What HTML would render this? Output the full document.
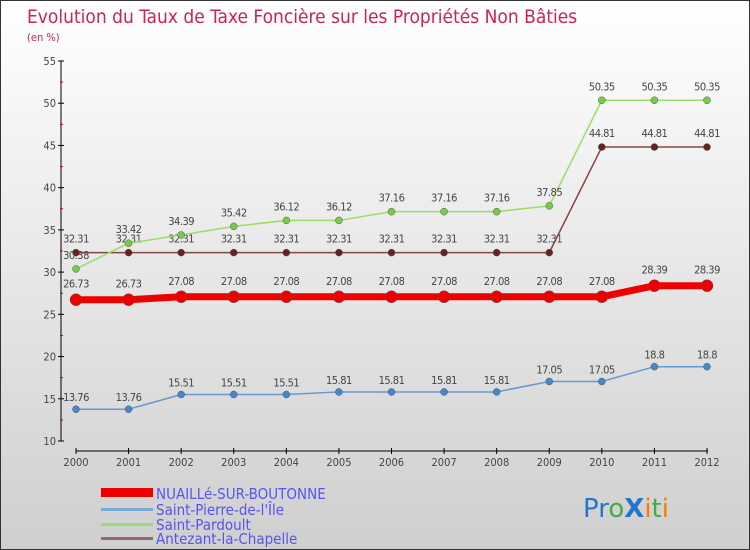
<!DOCTYPE html>
<html><head><meta charset="utf-8"><style>
body{margin:0}
#c{width:750px;height:550px;position:relative;box-sizing:border-box;border:1px solid #333;background:linear-gradient(#ffffff,#cfcfcf);font-family:"DejaVu Sans Condensed","Liberation Sans",sans-serif;overflow:hidden}
</style></head><body>
<div id="c">
<svg id="s" width="750" height="550" style="position:absolute;left:0;top:0">
<text x="26" y="22" font-size="19" fill="#cc2255" font-family="DejaVu Sans Condensed, Liberation Sans, sans-serif" style="font-weight:200">Evolution du Taux de Taxe Foncière sur les Propriétés Non Bâties</text>
<text x="26" y="40" font-size="11" fill="#cc2255">(en %)</text>
<g id="axes"></g><g id="series"></g>
<g>
<rect x="100" y="487" width="52" height="9" fill="#ee0000"/>
<text x="155" y="498" font-size="15" fill="#5555ee">NUAILLé-SUR-BOUTONNE</text>
<rect x="100" y="507" width="52" height="3" fill="#77aadd"/>
<text x="155" y="514" font-size="15" fill="#5555ee">Saint-Pierre-de-l'Île</text>
<rect x="100" y="522" width="52" height="3" fill="#99dd77"/>
<text x="155" y="529" font-size="15" fill="#5555ee">Saint-Pardoult</text>
<rect x="100" y="536" width="52" height="3" fill="#996666"/>
<text x="155" y="543" font-size="15" fill="#5555ee">Antezant-la-Chapelle</text>
</g>
<g font-size="26" font-family="DejaVu Sans, sans-serif">
<text x="582" y="516"><tspan fill="#2277cc">Pr</tspan><tspan fill="#44aa44">o</tspan><tspan fill="#2277cc" font-weight="bold">X</tspan><tspan fill="#ff7700">i</tspan><tspan fill="#44aa44">t</tspan><tspan fill="#ff7700">i</tspan></text>
</g>
</svg>
</div>
<script>
const years=[2000,2001,2002,2003,2004,2005,2006,2007,2008,2009,2010,2011,2012];
const nuaille=[26.73,26.73,27.08,27.08,27.08,27.08,27.08,27.08,27.08,27.08,27.08,28.39,28.39];
const stPierre=[13.76,13.76,15.51,15.51,15.51,15.81,15.81,15.81,15.81,17.05,17.05,18.8,18.8];
const stPardoult=[30.38,33.42,34.39,35.42,36.12,36.12,37.16,37.16,37.16,37.85,50.35,50.35,50.35];
const antezant=[32.31,32.31,32.31,32.31,32.31,32.31,32.31,32.31,32.31,32.31,44.81,44.81,44.81];
const yTicks=[10,15,20,25,30,35,40,45,50,55];
const NS="http://www.w3.org/2000/svg";
const X=i=>75+i*(706-75)/(years.length-1);
const Y=v=>440-(v-10)*380/45;
function mk(t,a,p){const e=document.createElementNS(NS,t);for(const k in a)e.setAttribute(k,a[k]);p.appendChild(e);return e;}
const ax=document.getElementById('axes');
let l=mk('line',{x1:60,y1:Y(55),x2:60,y2:Y(10),stroke:'#000','stroke-width':1},ax);


l=mk('line',{x1:75,y1:450,x2:707,y2:450,stroke:'#000','stroke-width':1},ax);


yTicks.forEach(v=>{
 mk('line',{x1:57,x2:63,y1:Y(v),y2:Y(v),stroke:'#000'},ax);
 if(v<55)mk('line',{x1:59,x2:62,y1:Y(v+2.5),y2:Y(v+2.5),stroke:'#cc0000'},ax);
 const t=mk('text',{x:55,y:Y(v)+4,'text-anchor':'end','font-size':11,fill:'#444'},ax);t.textContent=v;
 
 
});
years.forEach((y,i)=>{
 mk('line',{x1:X(i),x2:X(i),y1:447,y2:453,stroke:'#000'},ax);
 const t=mk('text',{x:X(i),y:465,'text-anchor':'middle','font-size':11,fill:'#444'},ax);t.textContent=y;
 
 
});
const sg=document.getElementById('series');
function series(vals,color,dot,w,r,name,labelDy){
 const g=mk('g',{},sg);
 
 
 const p=mk('polyline',{points:vals.map((v,i)=>X(i)+','+Y(v)).join(' '),fill:'none',stroke:color,'stroke-width':w,'stroke-linejoin':'round'},g);
 
 
 vals.forEach((v,i)=>{
  const c=mk('circle',{cx:X(i),cy:Y(v),r:r,fill:dot,stroke:'#555','stroke-width':0.5},g);
  
  
  const t=mk('text',{x:X(i),y:Y(v)+labelDy,'text-anchor':'middle','font-size':11,fill:'#444','letter-spacing':'-0.5'},g);
  t.textContent=v;
  
  
 });
}
series(stPierre,'#6699cc','#4488cc',1.5,3.5,'series-saint-pierre',-8);
series(antezant,'#884444','#662222',1.5,3.5,'series-antezant',-10);
series(stPardoult,'#99dd66','#77cc44',1.5,3.5,'series-saint-pardoult',-10);
series(nuaille,'#ee0000','#ee0000',7,6,'series-nuaille',-12);
</script>
</body></html>
